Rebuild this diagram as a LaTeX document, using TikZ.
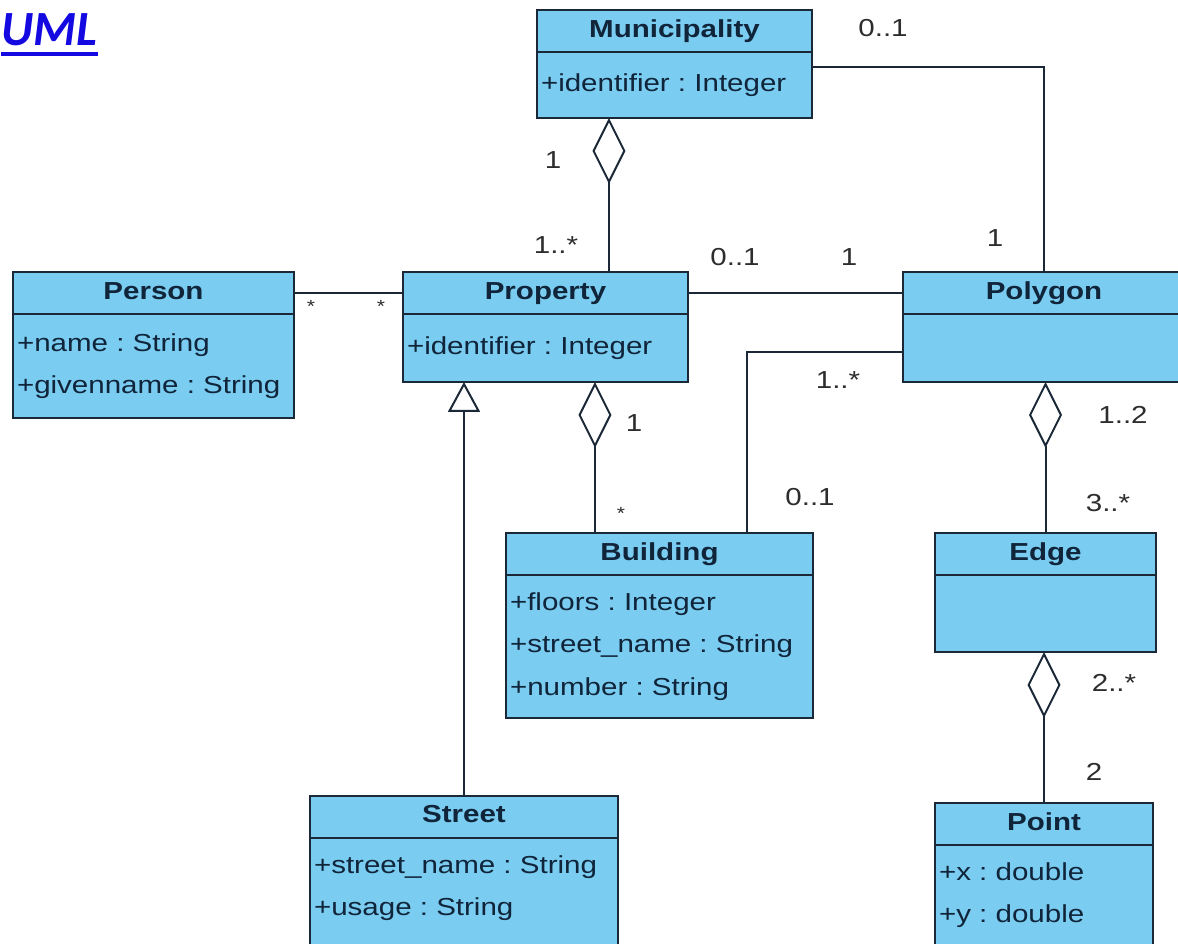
\documentclass[tikz,border=0pt]{standalone}
\usepackage{fontspec}
\setmainfont{Liberation Sans}[FakeStretch=1.2]
\newfontfamily\titlefont{Carlito}
\usepackage{tikz}
\usetikzlibrary{arrows.meta,positioning}
\frenchspacing

\definecolor{boxfill}{RGB}{122,204,240}
\definecolor{boxline}{RGB}{27,40,56}
\definecolor{boxtext}{RGB}{16,36,58}
\definecolor{multtext}{RGB}{45,45,45}
\definecolor{titleblue}{RGB}{20,10,225}

\tikzset{
  head/.style={draw=boxline, fill=boxfill, line width=0.04cm, text=boxtext,
    font=\fontsize{14}{24}\selectfont\bfseries, minimum height=0.84cm, inner sep=0pt,
    outer sep=0pt, text height=0.9em, text depth=0.18em},
  attrs/.style={draw=boxline, fill=boxfill, line width=0.04cm, text=boxtext,
    font=\fontsize{14}{24}\selectfont, align=left, inner xsep=0.08cm, inner ysep=0pt,
    outer sep=0pt, below=0pt of #1},
  mult/.style={text=multtext, font=\fontsize{14}{17}\selectfont, inner sep=0pt},
  star/.style={text=multtext, font=\fontsize{10}{12}\selectfont, inner sep=0pt},
  assoc/.style={draw=boxline, line width=0.04cm},
  agg/.style={assoc, -{Diamond[open, length=1.32cm, width=0.66cm, line width=0.04cm]}},
  gen/.style={assoc, -{Triangle[open, length=0.6cm, width=0.64cm, line width=0.04cm]}},
}

\begin{document}
\begin{tikzpicture}[x=0.02cm, y=-0.02cm]
\useasboundingbox (0,0) rectangle (1178,944);

% titel
\node[anchor=base west, inner sep=0pt, text=titleblue,
  font=\titlefont\bfseries\itshape\fontsize{28}{32}\selectfont] (ttl) at (1,45) {UML};
\draw[titleblue, line width=0.08cm] ([yshift=-0.18cm]ttl.base west) -- ([yshift=-0.18cm]ttl.base east);

% klassen
\node[head, minimum width=5.5cm] (muni) at (674.5,31) {Municipality};
\node[attrs=muni, text width=5.34cm, minimum height=1.32cm] (munib) {+identifier : Integer};

\node[head, minimum width=5.62cm] (pers) at (153.5,293) {Person};
\node[attrs=pers, text width=5.46cm, minimum height=2.08cm] (persb) {+name : String\\+givenname : String};

\node[head, minimum width=5.7cm] (prop) at (545.5,293) {Property};
\node[attrs=prop, text width=5.54cm, minimum height=1.36cm] (propb) {+identifier : Integer};

\node[head, minimum width=5.64cm] (poly) at (1044,293) {Polygon};
\node[attrs=poly, text width=5.48cm, minimum height=1.36cm] (polyb) {};

\node[head, minimum width=6.14cm] (bld) at (659.5,554) {Building};
\node[attrs=bld, text width=5.98cm, minimum height=2.86cm] (bldb) {+floors : Integer\\+street\_name : String\\+number : String};

\node[head, minimum width=4.42cm] (edge) at (1045.5,554) {Edge};
\node[attrs=edge, text width=4.26cm, minimum height=1.54cm] (edgeb) {};

\node[head, minimum width=6.16cm] (street) at (464,816.5) {Street};
\node[attrs=street, text width=6cm, inner ysep=0.36cm, text depth=1.6cm] (streetb) {+street\_name : String\\+usage : String};

\node[head, minimum width=4.36cm] (pt) at (1044,824) {Point};
\node[attrs=pt, text width=4.2cm, inner ysep=0.36cm, text depth=1.6cm] (ptb) {+x : double\\+y : double};

% verbindungen
\coordinate (pa) at ([xshift=1.27cm]prop.north);
\draw[agg] (pa) -- (pa |- munib.south);
\draw[assoc] ([yshift=0.36cm]munib.east) -| (poly.north);
\draw[assoc] (pers.east) -- (prop.west);
\draw[assoc] (prop.east) -- (poly.west);
\coordinate (pb) at ([xshift=0.99cm]propb.south);
\draw[agg] (pb |- bld.north) -- (pb);
\draw[assoc] ([yshift=-0.08cm]polyb.west) -| ([xshift=1.75cm]bld.north);
\draw[gen] (street.north) -- (street.north |- propb.south);
\draw[agg] (edge.north) -- (edge.north |- polyb.south);
\draw[agg] (pt.north) -- (pt.north |- edgeb.south);

% multiplizitaeten
\node[mult] (m1) at (883,28) {0..1};
\node[mult] (m2) at (553,160) {1};
\node[mult] (m3) at (556,245) {1..*};
\node[mult] (m4) at (995,238) {1};
\node[star] (m5) at (311,306) {*};
\node[star] (m6) at (381,306) {*};
\node[mult] (m7) at (735,257) {0..1};
\node[mult] (m8) at (849,257) {1};
\node[mult] (m9) at (838,380) {1..*};
\node[mult] (m10) at (634,423) {1};
\node[star] (m11) at (621,513) {*};
\node[mult] (m12) at (810,497) {0..1};
\node[mult] (m13) at (1123,415) {1..2};
\node[mult] (m14) at (1108,503) {3..*};
\node[mult] (m15) at (1114,683) {2..*};
\node[mult] (m16) at (1094,772) {2};
\end{tikzpicture}
\end{document}
